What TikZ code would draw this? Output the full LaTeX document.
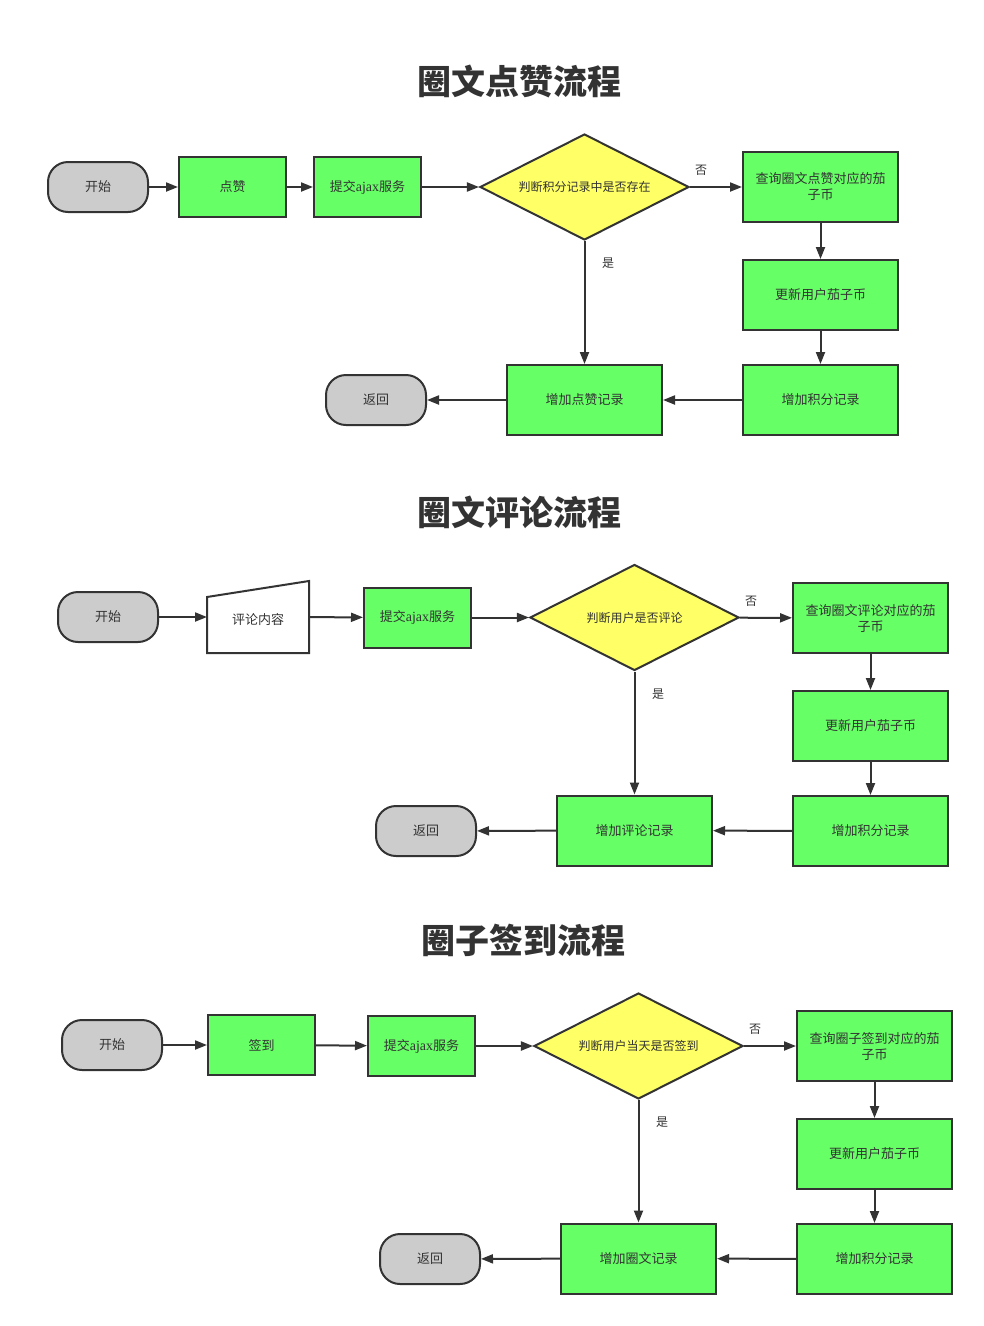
\documentclass[tikz,border=0pt]{standalone}
\usepackage{fontspec}
\setmainfont{Noto Sans CJK SC}
\newfontfamily\latf{Liberation Serif}
\usetikzlibrary{shapes.geometric,arrows.meta}
\definecolor{stroke}{HTML}{333333}
\definecolor{gbox}{HTML}{66FF66}
\definecolor{ybox}{HTML}{FFFF66}
\definecolor{gterm}{HTML}{CCCCCC}
\tikzset{
  base/.style={draw=stroke,line width=2pt,text=stroke,inner sep=0pt,align=center,font=\fontsize{13}{16}\selectfont},
  term/.style={base,fill=gterm,rounded corners=20pt,minimum width=100pt,minimum height=50pt},
  proc/.style={base,fill=gbox,minimum width=107pt,minimum height=60pt},
  wide/.style={base,fill=gbox,minimum width=155pt,minimum height=70pt},
  dec/.style={base,fill=ybox,diamond,aspect=1.97,minimum width=209pt,minimum height=106pt,font=\fontsize{12}{15}\selectfont},
  ttl/.style={text=stroke,font=\fontsize{34}{40}\selectfont\bfseries},
  lbl/.style={text=stroke,font=\fontsize{12}{15}\selectfont},
  arr/.style={draw=stroke,line width=2pt,-{Triangle[length=12pt,width=9pt]}},
}
\begin{document}
\begin{tikzpicture}[x=1pt,y=-1pt]
\useasboundingbox (0,0) rectangle (984,1326);
% ---------- Section 1 ----------
\node[ttl] (t1) at (519,81) {圈文点赞流程};
\node[term] (s1) at (98,187) {开始};
\node[proc] (p1) at (232.5,187) {点赞};
\node[proc] (a1) at (367.5,187) {提交{\latf\fontsize{14}{16}\selectfont ajax}服务};
\node[dec] (d1) at (584.5,187) {判断积分记录中是否存在};
\node[wide] (q1) at (820.5,187) {查询圈文点赞对应的茄\\子币};
\node[wide] (u1) at (820.5,295) {更新用户茄子币};
\node[wide] (i1) at (820.5,400) {增加积分记录};
\node[wide] (r1) at (584.5,400) {增加点赞记录};
\node[term] (e1) at (376,400) {返回};
\node[lbl] (n1) at (701,170) {否};
\node[lbl] (y1) at (608,263) {是};
\draw[arr] (s1) -- (p1);
\draw[arr] (p1) -- (a1);
\draw[arr] (a1) -- (d1);
\draw[arr] (d1) -- (q1);
\draw[arr] (q1) -- (u1);
\draw[arr] (u1) -- (i1);
\draw[arr] (i1) -- (r1);
\draw[arr] (r1) -- (e1);
\draw[arr] (d1) -- (r1);
% ---------- Section 2 ----------
\node[ttl] (t2) at (519,512) {圈文评论流程};
\node[term] (s2) at (108,617) {开始};
\node[base,draw=none,minimum width=100pt,minimum height=70pt] (c2) at (258,617) {};
\draw[draw=stroke,line width=2pt,fill=white] (c2.south west) -- ([yshift=-16pt]c2.north west) -- (c2.north east) -- (c2.south east) -- cycle;
\node[base,draw=none] (c2t) at (258,620) {评论内容};
\node[proc] (a2) at (417.5,617.5) {提交{\latf\fontsize{14}{16}\selectfont ajax}服务};
\node[dec] (d2) at (634.5,617.5) {判断用户是否评论};
\node[wide] (q2) at (870.5,618) {查询圈文评论对应的茄\\子币};
\node[wide] (u2) at (870.5,726) {更新用户茄子币};
\node[wide] (i2) at (870.5,831) {增加积分记录};
\node[wide] (r2) at (634.5,830.5) {增加评论记录};
\node[term] (e2) at (426,831) {返回};
\node[lbl] (n2) at (751,601) {否};
\node[lbl] (y2) at (658,694) {是};
\draw[arr] (s2) -- (c2);
\draw[arr] (c2) -- (a2);
\draw[arr] (a2) -- (d2);
\draw[arr] (d2) -- (q2);
\draw[arr] (q2) -- (u2);
\draw[arr] (u2) -- (i2);
\draw[arr] (i2) -- (r2);
\draw[arr] (r2) -- (e2);
\draw[arr] (d2) -- (r2);
% ---------- Section 3 ----------
\node[ttl] (t3) at (523,940) {圈子签到流程};
\node[term] (s3) at (112,1045) {开始};
\node[proc] (p3) at (261.5,1045) {签到};
\node[proc] (a3) at (421.5,1046) {提交{\latf\fontsize{14}{16}\selectfont ajax}服务};
\node[dec] (d3) at (638.5,1046) {判断用户当天是否签到};
\node[wide] (q3) at (874.5,1046) {查询圈子签到对应的茄\\子币};
\node[wide] (u3) at (874.5,1154) {更新用户茄子币};
\node[wide] (i3) at (874.5,1259) {增加积分记录};
\node[wide] (r3) at (638.5,1258.5) {增加圈文记录};
\node[term] (e3) at (430,1259) {返回};
\node[lbl] (n3) at (755,1029) {否};
\node[lbl] (y3) at (662,1122) {是};
\draw[arr] (s3) -- (p3);
\draw[arr] (p3) -- (a3);
\draw[arr] (a3) -- (d3);
\draw[arr] (d3) -- (q3);
\draw[arr] (q3) -- (u3);
\draw[arr] (u3) -- (i3);
\draw[arr] (i3) -- (r3);
\draw[arr] (r3) -- (e3);
\draw[arr] (d3) -- (r3);
\end{tikzpicture}
\end{document}
